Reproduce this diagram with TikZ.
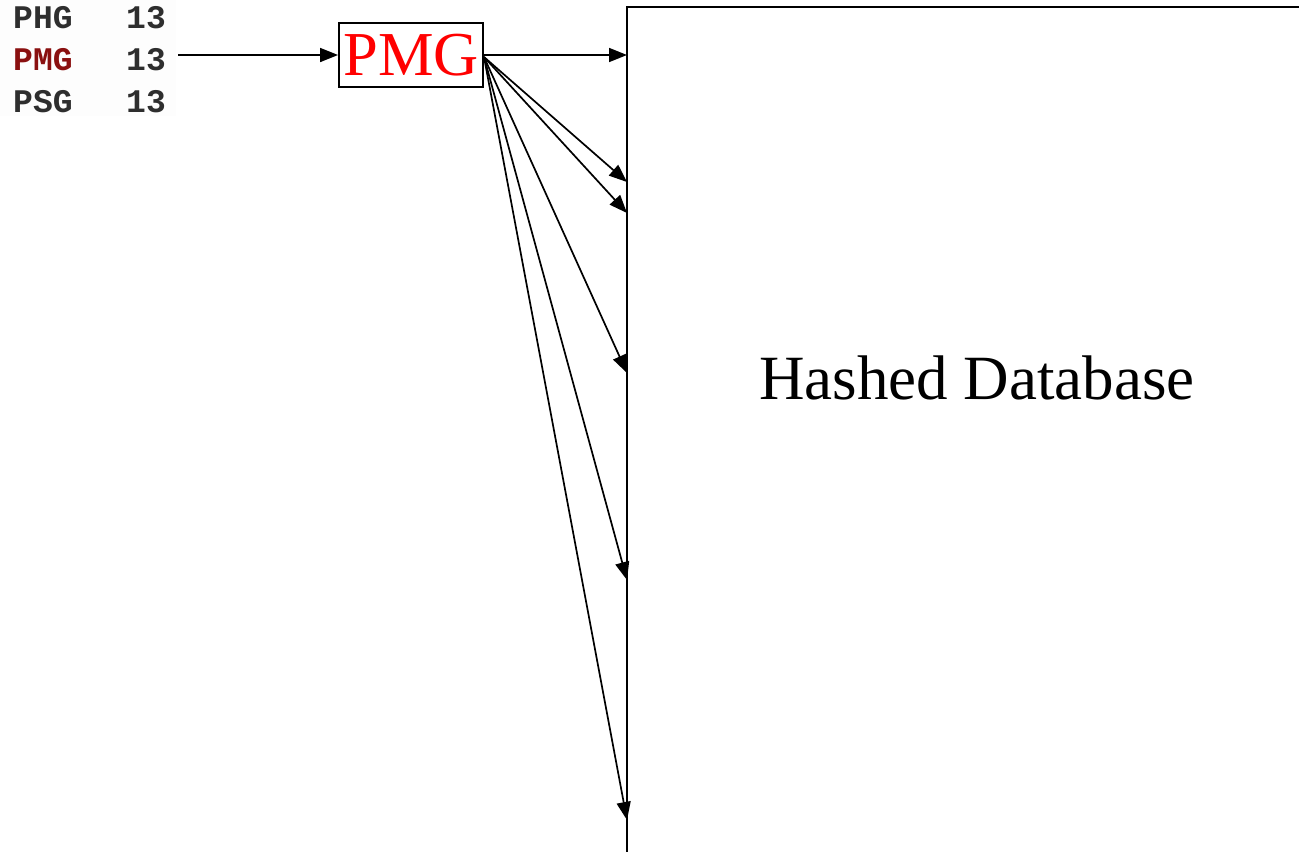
\documentclass[tikz,border=0pt]{standalone}
\usepackage{fontspec}
\setmainfont{Liberation Serif}
\newfontfamily\listfont{Liberation Mono}
\usetikzlibrary{arrows.meta}
\definecolor{listgray}{HTML}{2E2E2E}
\definecolor{listred}{HTML}{8A1010}
\definecolor{listbg}{HTML}{FDFDFD}
\tikzset{
  conn/.style={line width=1.7pt, -{Triangle[length=18pt,width=14pt]}},
  frameline/.style={line width=2.2pt},
  listitem/.style={anchor=west, inner sep=0pt, font=\listfont\bfseries\fontsize{33}{33}\selectfont},
}
\begin{document}
\begin{tikzpicture}[x=1pt,y=-1pt]
  \useasboundingbox (0,0) rectangle (1299,852);
  % symbol list
  \fill[listbg] (0,0) rectangle (176,116);
  \node[listitem, text=listgray] (l1) at (13,18) {PHG};
  \node[listitem, text=listgray] (n1) at (126,18) {13};
  \node[listitem, text=listred] (l2) at (13,60) {PMG};
  \node[listitem, text=listgray] (n2) at (126,60) {13};
  \node[listitem, text=listgray] (l3) at (13,102) {PSG};
  \node[listitem, text=listgray] (n3) at (126,102) {13};
  \coordinate (lout) at (178,55);
  % selected symbol
  \node[draw, line width=1.9pt, minimum width=144pt, minimum height=64pt, inner sep=0pt,
        text=red, font=\fontsize{62.5}{62.5}\selectfont] (pmg) at (411,55) {PMG};
  \draw[conn] (lout) -- (pmg.west);
  % database frame
  \coordinate (dbtl) at (627,7);
  \coordinate (dbtr) at (1299,7);
  \coordinate (dbbl) at (627,852);
  \draw[frameline] (dbtr) -- (dbtl) -- (dbbl);
  \node[font=\fontsize{63}{63}\selectfont] (db) at (977,378) {Hashed Database};
  % hash targets
  \coordinate (t1) at (627,55);
  \coordinate (t2) at (627,182);
  \coordinate (t3) at (627,213);
  \coordinate (t4) at (627,373);
  \coordinate (t5) at (627,580);
  \coordinate (t6) at (627,820);
  \coordinate (src) at (484,57);
  \draw[conn] (pmg.east) -- (t1);
  \foreach \t in {t2,t3,t4,t5,t6}
    \draw[conn] (src) -- (\t);
\end{tikzpicture}
\end{document}
